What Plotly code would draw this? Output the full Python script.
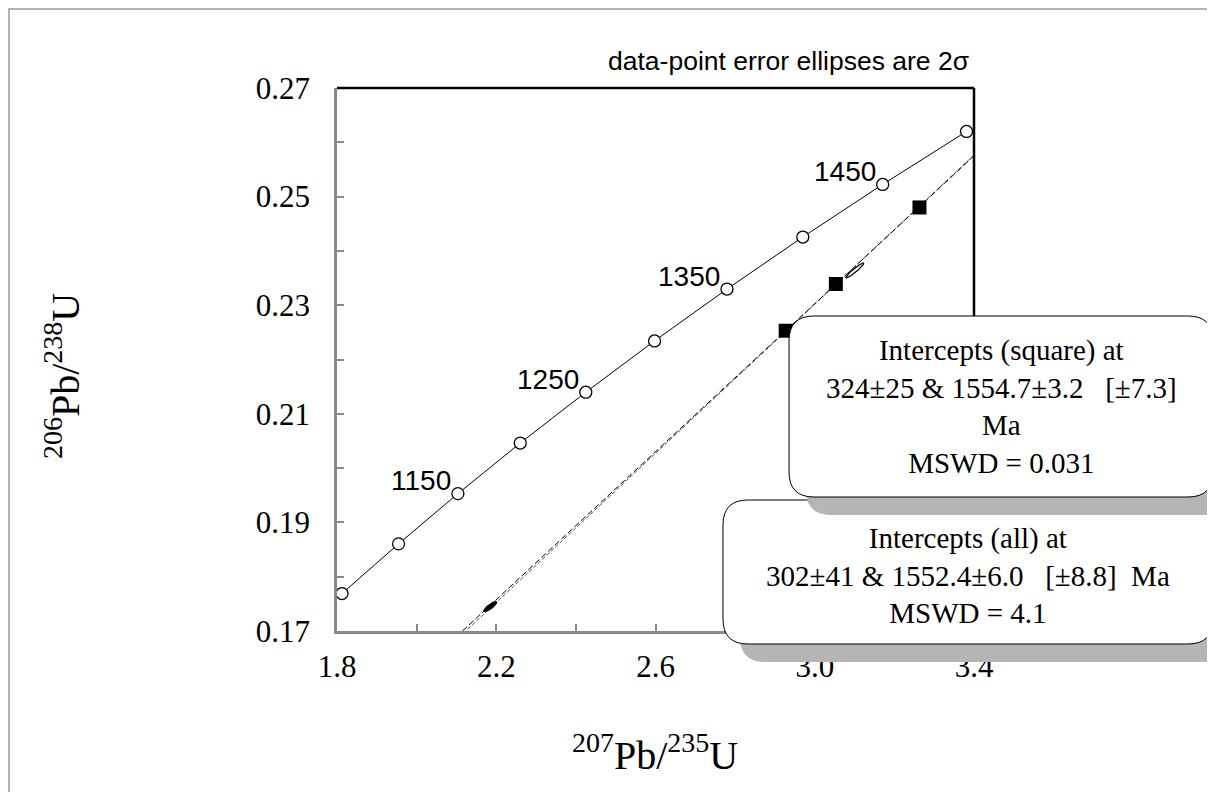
import numpy as np
import plotly.graph_objects as go

# ---------------- data ----------------
# concordia points (every 50 Ma)
conc_age = [1050, 1100, 1150, 1200, 1250, 1300, 1350, 1400, 1450, 1500]
conc_x = [1.8126, 1.9546, 2.1037, 2.2603, 2.4249, 2.5976, 2.7796, 2.9700, 3.1706, 3.3812]
conc_y = [0.17690, 0.18605, 0.19530, 0.20461, 0.21398, 0.22342, 0.23297, 0.24255, 0.25224, 0.26200]
label_ages = [1150, 1250, 1350, 1450]

# discordia lines (lower & upper intercept points)
disc_sq_x = [0.3759, 3.6238]
disc_sq_y = [0.05154, 0.27275]
disc_all_x = [0.3464, 3.6130]
disc_all_y = [0.04796, 0.27229]

# filled square data points
sq_x = [2.927, 3.053, 3.263]
sq_y = [0.2253, 0.2339, 0.2480]

# error ellipses (centre, 2-sigma half widths, correlation)
ell_cx = [3.1006, 2.185]
ell_cy = [0.2364, 0.1745]
ell_sx = [0.0226, 0.016]
ell_sy = [0.00138, 0.0009]
ell_rho = [0.95, 0.85]

x_ticks = [1.8, 2.2, 2.6, 3.0, 3.4]
x_minor = [2.0, 2.4, 2.8, 3.2]
y_ticks = [0.17, 0.19, 0.21, 0.23, 0.25, 0.27]
y_minor = [0.18, 0.20, 0.22, 0.24, 0.26]

box_sq_text = ["Intercepts (square) at",
               "324±25 & 1554.7±3.2\u00a0\u00a0\u00a0[±7.3]",
               "Ma",
               "MSWD = 0.031"]
box_all_text = ["Intercepts (all) at",
                "302±41 & 1552.4±6.0\u00a0\u00a0\u00a0[±8.8]\u00a0\u00a0Ma",
                "MSWD = 4.1"]

# ---------------- layout geometry (screen pixels) ----------------
OFF = 8  # page body margin
FW, FH = 1215, 792
L, T, R, B = 337, 88, 974, 631
PW, PH = R - L, B - T


def px(x):
    return (x - L) / PW


def py(y):
    return (B - y) / PH


def rrect(x0, y0, x1, y1, r):
    pts = [
        ("M", [(x0 + r, y0)]),
        ("L", [(x1 - r, y0)]),
        ("Q", [(x1, y0), (x1, y0 + r)]),
        ("L", [(x1, y1 - r)]),
        ("Q", [(x1, y1), (x1 - r, y1)]),
        ("L", [(x0 + r, y1)]),
        ("Q", [(x0, y1), (x0, y1 - r)]),
        ("L", [(x0, y0 + r)]),
        ("Q", [(x0, y0), (x0 + r, y0)]),
    ]
    s = ""
    for cmd, ps in pts:
        s += cmd + " " + " ".join(f"{px(a):.5f},{py(b):.5f}" for a, b in ps) + " "
    return s + "Z"


fig = go.Figure()

# discordia lines
fig.add_trace(go.Scatter(x=disc_all_x, y=disc_all_y, mode="lines",
                         line=dict(color="#555555", width=1, dash="4px,2px"),
                         hoverinfo="skip", showlegend=False))
fig.add_trace(go.Scatter(x=disc_sq_x, y=disc_sq_y, mode="lines",
                         line=dict(color="#000000", width=1, dash="6px,3px"),
                         hoverinfo="skip", showlegend=False))

# concordia
fig.add_trace(go.Scatter(x=conc_x, y=conc_y, mode="lines+markers",
                         line=dict(color="black", width=1),
                         marker=dict(symbol="circle", size=12, color="white",
                                     line=dict(color="black", width=1.3)),
                         showlegend=False, cliponaxis=False))

# ellipses
t = np.linspace(0, 2 * np.pi, 80)
for i in range(len(ell_cx)):
    ex = ell_cx[i] + ell_sx[i] * np.cos(t)
    ey = ell_cy[i] + ell_sy[i] * (ell_rho[i] * np.cos(t) + np.sqrt(1 - ell_rho[i] ** 2) * np.sin(t))
    filled = i == 1
    fig.add_trace(go.Scatter(x=ex, y=ey, mode="lines", fill="toself",
                             fillcolor="black" if filled else "white",
                             line=dict(color="black", width=1.3),
                             hoverinfo="skip", showlegend=False))

# squares
fig.add_trace(go.Scatter(x=sq_x, y=sq_y, mode="markers",
                         marker=dict(symbol="square", size=14, color="black"),
                         showlegend=False))

# age labels
for a in label_ages:
    i = conc_age.index(a)
    fig.add_annotation(x=conc_x[i], y=conc_y[i], text=str(a), showarrow=False,
                       xanchor="right", yanchor="middle", xshift=-5, yshift=13,
                       font=dict(family="Liberation Sans, Arial", size=28, color="black"))

shapes = []
# outer border (figure edge)
shapes.append(dict(type="rect", xref="paper", yref="paper",
                   x0=px(9), x1=px(1214), y0=py(830), y1=py(9),
                   line=dict(color="#999999", width=1.5), fillcolor="rgba(0,0,0,0)",
                   layer="below"))
# top / right frame lines
shapes.append(dict(type="line", xref="paper", yref="paper", x0=0, x1=1, y0=1, y1=1,
                   line=dict(color="black", width=2.5), layer="above"))
shapes.append(dict(type="line", xref="paper", yref="paper", x0=1, x1=1, y0=0, y1=1,
                   line=dict(color="black", width=2.5), layer="above"))

# boxes: box 2 (all) first, then box 1 (square) on top
SH = (17, 18)
boxes = [(723, 500, 1213, 644), (789, 316, 1213, 497)]
for (x0, y0, x1, y1) in boxes:
    shapes.append(dict(type="path", xref="paper", yref="paper",
                       path=rrect(x0 + SH[0], y0 + SH[1], x1 + SH[0], y1 + SH[1], 25),
                       fillcolor="#b5b5b5", line=dict(width=0), layer="above"))
    shapes.append(dict(type="path", xref="paper", yref="paper",
                       path=rrect(x0, y0, x1, y1, 25),
                       fillcolor="white", line=dict(color="black", width=1), layer="above"))

serif = "Liberation Serif, Times New Roman, serif"

fig.add_annotation(xref="paper", yref="paper", x=px(1001), y=py(407),
                   text="<br>".join(box_sq_text), showarrow=False, align="center",
                   xanchor="center", yanchor="middle",
                   font=dict(family=serif, size=29, color="black"))
fig.add_annotation(xref="paper", yref="paper", x=px(968), y=py(575),
                   text="<br>".join(box_all_text), showarrow=False, align="center",
                   xanchor="center", yanchor="middle",
                   font=dict(family=serif, size=29, color="black"))

# top note
fig.add_annotation(xref="paper", yref="paper", x=px(788), y=py(61),
                   text="data-point error ellipses are 2σ", showarrow=False,
                   xanchor="center", yanchor="middle",
                   font=dict(family="Liberation Sans, Arial", size=26.5, color="black"))

# axis titles
fig.add_annotation(xref="paper", yref="paper", x=px(655), y=py(752),
                   text="<sup>207</sup>Pb/<sup>235</sup>U", showarrow=False,
                   xanchor="center", yanchor="middle",
                   font=dict(family=serif, size=40, color="black"))
fig.add_annotation(xref="paper", yref="paper", x=px(62), y=py(376),
                   text="<sup>206</sup>Pb/<sup>238</sup>U", showarrow=False, textangle=-90,
                   xanchor="center", yanchor="middle",
                   font=dict(family=serif, size=40, color="black"))

fig.update_layout(
    width=FW, height=FH,
    margin=dict(l=L - OFF, r=FW - R + OFF, t=T - OFF, b=FH - B + OFF, pad=0),
    paper_bgcolor="white", plot_bgcolor="white",
    shapes=shapes,
    xaxis=dict(range=[1.8, 3.4], tickvals=x_ticks, ticktext=[f"{v:.1f}" for v in x_ticks],
               ticks="inside", ticklen=7, tickwidth=2, tickcolor="#888888",
               showline=True, linecolor="#888888", linewidth=2.5,
               showgrid=False, zeroline=False, ticklabelstandoff=6,
               minor=dict(tickvals=x_minor, ticks="inside", ticklen=7, tickwidth=2,
                          tickcolor="#888888", showgrid=False),
               tickfont=dict(family=serif, size=31, color="black")),
    yaxis=dict(range=[0.17, 0.27], tickvals=y_ticks, ticktext=[f"{v:.2f}" for v in y_ticks],
               ticks="inside", ticklen=7, tickwidth=2, tickcolor="#888888",
               showline=True, linecolor="#888888", linewidth=2.5,
               showgrid=False, zeroline=False, ticklabelstandoff=18,
               minor=dict(tickvals=y_minor, ticks="inside", ticklen=7, tickwidth=2,
                          tickcolor="#888888", showgrid=False),
               tickfont=dict(family=serif, size=31, color="black")),
)

fig.write_html("out.html")
